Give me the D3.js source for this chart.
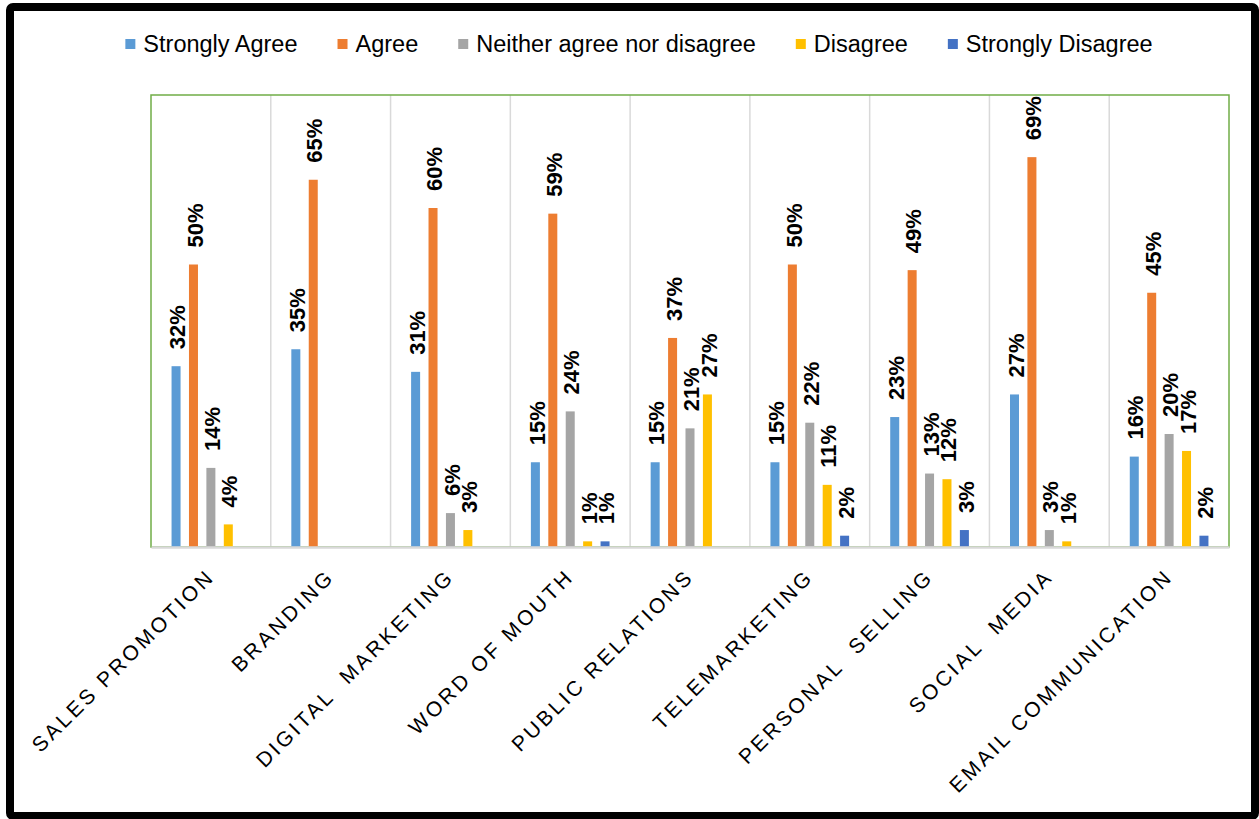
<!DOCTYPE html>
<html>
<head>
<meta charset="utf-8">
<script src="https://cdn.jsdelivr.net/npm/d3@7"></script>
<style>
  html, body { margin: 0; padding: 0; background: #fff; }
  svg { display: block; font-family: "Liberation Sans", Arial, sans-serif; }
</style>
</head>
<body>
<svg id="chart" width="1259" height="819"></svg>
<script>
// Survey responses per promotional tool (percent of respondents)
const categories = [
  "SALES PROMOTION", "BRANDING", "DIGITAL  MARKETING", "WORD OF MOUTH",
  "PUBLIC RELATIONS", "TELEMARKETING", "PERSONAL  SELLING", "SOCIAL  MEDIA",
  "EMAIL COMMUNICATION"
];
const seriesNames = ["Strongly Agree", "Agree", "Neither agree nor disagree", "Disagree", "Strongly Disagree"];
const stronglyAgree    = [32, 35, 31, 15, 15, 15, 23, 27, 16];
const agree            = [50, 65, 60, 59, 37, 50, 49, 69, 45];
const neither          = [14, null, 6, 24, 21, 22, 13, 3, 20];
const disagree         = [4, null, 3, 1, 27, 11, 12, 1, 17];
const stronglyDisagree = [null, null, null, 1, null, 2, 3, null, 2];
const seriesColors = ["#5b9bd5", "#ed7d31", "#a5a5a5", "#ffc000", "#4472c4"];

const seriesValues = [stronglyAgree, agree, neither, disagree, stronglyDisagree];

const svg = d3.select("#chart");
const plot = { left: 151, right: 1229, top: 95, bottom: 547 };

// Outer black frame
svg.append("rect")
  .attr("x", 10).attr("y", 7).attr("width", 1245).attr("height", 809)
  .attr("rx", 3)
  .attr("fill", "#fff").attr("stroke", "#000").attr("stroke-width", 8);

const x0 = d3.scaleBand().domain(categories).range([plot.left, plot.right]).padding(0);
const x1 = d3.scaleBand().domain(seriesNames).range([0, x0.bandwidth()])
  .paddingInner(0.483).paddingOuter(1.18);
const y = d3.scaleLinear().domain([0, 80]).range([plot.bottom, plot.top]);

// Vertical category separators
svg.append("g")
  .selectAll("line")
  .data(categories.slice(1))
  .join("line")
  .attr("x1", d => x0(d)).attr("x2", d => x0(d))
  .attr("y1", plot.top).attr("y2", plot.bottom)
  .attr("stroke", "#d9d9d9").attr("stroke-width", 1.5);

// Plot area border
svg.append("rect")
  .attr("x", plot.left).attr("y", plot.top)
  .attr("width", plot.right - plot.left).attr("height", plot.bottom - plot.top)
  .attr("fill", "none").attr("stroke", "#70ad47").attr("stroke-width", 1.5);

// Bars and value labels
const rows = [];
categories.forEach((c, i) => {
  seriesNames.forEach((s, j) => {
    const v = seriesValues[j][i];
    if (v !== null && v !== undefined) rows.push({ c, s, v, color: seriesColors[j] });
  });
});

svg.append("g")
  .selectAll("rect")
  .data(rows)
  .join("rect")
  .attr("x", d => x0(d.c) + x1(d.s))
  .attr("y", d => y(d.v))
  .attr("width", x1.bandwidth())
  .attr("height", d => y(0) - y(d.v))
  .attr("fill", d => d.color);

svg.append("g")
  .selectAll("text")
  .data(rows)
  .join("text")
  .attr("transform", d => `translate(${x0(d.c) + x1(d.s) + x1.bandwidth() / 2 + 1},${y(d.v) - 17}) rotate(-90)`)
  .attr("dy", "0.37em")
  .attr("text-anchor", "start")
  .attr("font-size", 22)
  .attr("font-weight", "bold")
  .attr("fill", "#000")
  .text(d => d.v + "%");

// Category axis line and slanted labels
const xAxis = d3.axisBottom(x0).tickSize(0).tickPadding(0);
const gx = svg.append("g").attr("transform", `translate(0,${plot.bottom})`).call(xAxis);
gx.select(".domain").attr("stroke", "#d9d9d9").attr("stroke-width", 2.5);
gx.selectAll(".tick text")
  .attr("transform", "translate(5,31) rotate(-45)")
  .attr("text-anchor", "end")
  .attr("dy", 0)
  .attr("font-size", 21)
  .attr("font-family", "'Liberation Sans', Arial, sans-serif")
  .attr("letter-spacing", "3px")
  .attr("fill", "#000")
  .style("white-space", "pre");

// Legend
const legend = svg.append("g");
const items = legend.selectAll("g")
  .data(seriesNames)
  .join("g");
items.append("rect")
  .attr("width", 10).attr("height", 10)
  .attr("fill", (d, i) => seriesColors[i]);
items.append("text")
  .attr("x", 18).attr("y", 5).attr("dy", "0.35em")
  .attr("font-size", 23.5)
  .attr("fill", "#000")
  .text(d => d);
let cursor = 0;
items.each(function () {
  const w = d3.select(this).select("text").node().getComputedTextLength();
  d3.select(this).attr("data-x", cursor);
  cursor += 18 + w + 40;
});
const totalW = cursor - 40;
const startX = 639 - totalW / 2;
items.attr("transform", function () {
  return `translate(${startX + (+d3.select(this).attr("data-x"))},39)`;
});
</script>
</body>
</html>
